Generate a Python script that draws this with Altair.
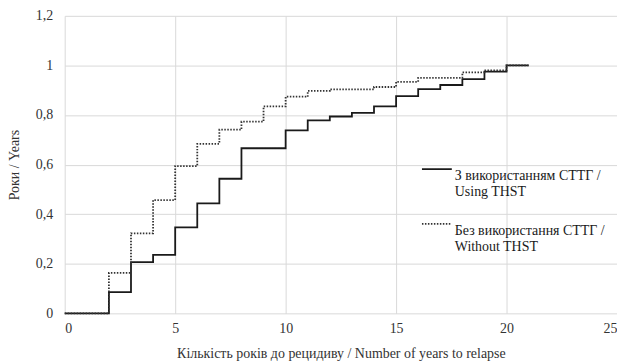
import altair as alt
import pandas as pd

years = [0, 2, 3, 4, 5, 6, 7, 8, 9, 10, 11, 12, 13, 14, 15, 16, 17, 18, 19, 20, 21]
with_thst = [0, 0.086, 0.207, 0.236, 0.347, 0.444, 0.543, 0.666, 0.666, 0.738, 0.778, 0.794,
             0.809, 0.835, 0.876, 0.904, 0.921, 0.945, 0.975, 1.0, 1.0]
without_thst = [0, 0.163, 0.323, 0.457, 0.594, 0.684, 0.741, 0.773, 0.835, 0.874, 0.897, 0.903,
                0.903, 0.913, 0.934, 0.95, 0.95, 0.972, 0.98, 1.0, 1.0]
series = ["З використанням СТТГ /|Using THST", "Без використання СТТГ /|Without THST"]

rows = []
for x, a, b in zip(years, with_thst, without_thst):
    rows.append({"x": x, "y": a, "s": series[0]})
    rows.append({"x": x, "y": b, "s": series[1]})
df = pd.DataFrame(rows)

font = "Times New Roman, serif"

chart = alt.Chart(df).mark_line(interpolate="step-after", strokeWidth=1.8).encode(
    x=alt.X("x:Q", scale=alt.Scale(domain=[0, 25], nice=False),
            axis=alt.Axis(values=[0, 5, 10, 15, 20, 25], title="Кількість років до рецидиву / Number of years to relapse",
                          titlePadding=11, labelPadding=8)),
    y=alt.Y("y:Q", scale=alt.Scale(domain=[0, 1.2], nice=False),
            axis=alt.Axis(values=[0, 0.2, 0.4, 0.6, 0.8, 1.0, 1.2], format="~g",
                          labelExpr="replace(datum.label, '.', ',')",
                          title="Роки / Years", titlePadding=14, labelPadding=12)),
    color=alt.Color("s:N", scale=alt.Scale(domain=series, range=["#1a1a1a", "#333333"]),
                    legend=alt.Legend(title=None, orient="none", legendX=358, legendY=138,
                                      labelExpr="split(datum.label, '|')",
                                      symbolType="stroke", symbolSize=900, symbolStrokeWidth=1.8,
                                      labelFontSize=14, labelFont=font, labelColor="#1a1a1a",
                                      labelLimit=300, rowPadding=9, labelOffset=2, labelBaseline="top")),
    strokeDash=alt.StrokeDash("s:N", scale=alt.Scale(domain=series, range=[[1, 0], [1.5, 1.5]]), legend=None),
).properties(
    width=555, height=299,
    padding={"left": 57, "top": 7, "right": 0, "bottom": 49},
    autosize=alt.AutoSizeParams(type="none"),
).configure(font=font).configure_view(stroke=None).configure_axis(
    domain=False, ticks=False, grid=True, gridColor="#d9d9d9", gridWidth=1,
    labelFont=font, labelFontSize=14, labelColor="#333333",
    titleFont=font, titleFontSize=14, titleColor="#333333", titleFontWeight="normal",
)

chart.save("out.html", embed_options={"renderer": "svg", "actions": False})
